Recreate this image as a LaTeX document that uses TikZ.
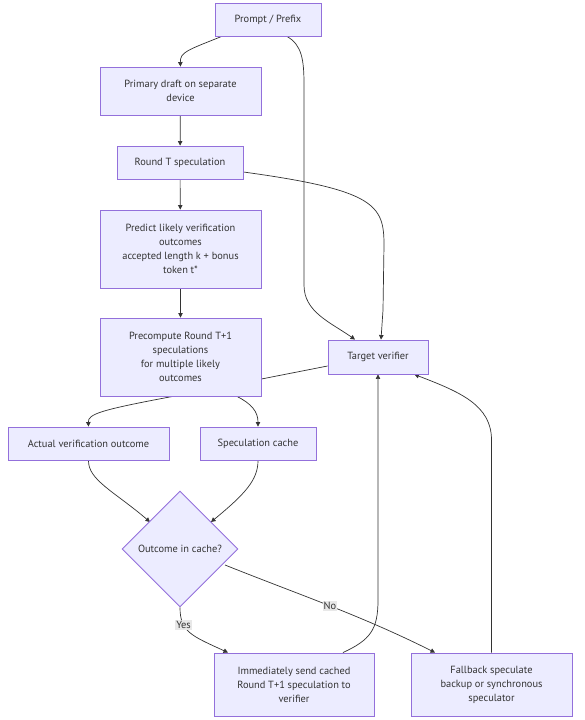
\documentclass[tikz,border=0pt]{standalone}
\usepackage{fontspec}
\setmainfont{PT Sans}
\usetikzlibrary{arrows.meta,shapes.geometric}
\definecolor{nodefill}{HTML}{ECECFF}
\definecolor{nodeline}{HTML}{9370DB}
\definecolor{edgecol}{HTML}{333333}
\definecolor{txtcol}{HTML}{333333}
\definecolor{lblfill}{HTML}{E8E8E8}
\pgfdeclarelayer{bg}
\pgfsetlayers{bg,main}
\begin{document}
\begin{tikzpicture}[x=1pt,y=-1pt,
  box/.style={draw=nodeline, fill=nodefill, line width=0.9pt, align=center,
    inner sep=0pt, text=txtcol, font=\fontsize{10.4}{14}\selectfont},
  decision/.style={box, diamond, shape aspect=1},
  flow/.style={draw=edgecol, line width=0.7pt, -{Triangle[length=4.5pt,width=4.5pt]}},
  lbl/.style={fill=lblfill, inner sep=1pt, text=txtcol, font=\fontsize{10.4}{11}\selectfont}]
\useasboundingbox (0,0) rectangle (585,720);

\node[box, minimum width=106pt, minimum height=33pt] (prompt) at (268,19.5) {Prompt / Prefix};
\node[box, minimum width=161pt, minimum height=48pt] (primary) at (180.5,91) {Primary draft on separate\\device};
\node[box, minimum width=126pt, minimum height=33pt] (roundt) at (180,162.5) {Round T speculation};
\node[box, minimum width=161pt, minimum height=78pt] (predict) at (180.5,249) {Predict likely verification\\outcomes\\accepted length k + bonus\\token t*};
\node[box, minimum width=161pt, minimum height=78pt] (precomp) at (180.5,357) {Precompute Round T+1\\speculations\\for multiple likely\\outcomes};
\node[box, minimum width=100pt, minimum height=34pt] (target) at (378,357) {Target verifier};
\node[box, minimum width=161pt, minimum height=33pt] (actual) at (88.5,443.5) {Actual verification outcome};
\node[box, minimum width=116pt, minimum height=33pt] (cache) at (258,443.5) {Speculation cache};
\node[decision, minimum width=116pt, minimum height=116pt] (dec) at (180,549) {Outcome in cache?};
\node[box, minimum width=160pt, minimum height=63pt] (immed) at (294,684.5) {Immediately send cached\\Round T+1 speculation to\\verifier};
\node[box, minimum width=161pt, minimum height=63pt] (fallback) at (491.5,684.5) {Fallback speculate\\backup or synchronous\\speculator};

\begin{pgfonlayer}{bg}
\path[flow] ([xshift=7pt]prompt.south west) .. controls (188,50) and (180,52) .. (primary.north);
\path[flow] ([xshift=19pt]prompt.south) .. controls (302,45) and (304,60) .. (304,85) -- (304,285) .. controls (304,312) and (330,322) .. ([xshift=-23pt]target.north);
\path[flow] (primary) -- (roundt);
\path[flow] ([yshift=-9.5pt]roundt.east) .. controls (375,190) and (384,205) .. (384,245) -- (383,310) -- ([xshift=3pt]target.north);
\path[flow] (roundt) -- (predict);
\path[flow] (predict) -- (precomp);
\path[flow] ([yshift=-9pt]target.west) -- (175,396) .. controls (100,410) and (88,414) .. (actual.north);
\path[flow] ([xshift=56.5pt]precomp.south) .. controls (252,404) and (258,412) .. (cache.north);
\path[flow] (actual.south) .. controls (88,480) and (115,492) .. (150,522);
\path[flow] (cache.south) .. controls (258,480) and (245,494) .. (211,522);
\path[flow] (dec.south) .. controls (180,632) and (192,636) .. node[lbl, pos=0.3] {Yes} ([xshift=-66pt]immed.north);
\path[flow] (225,565) .. controls (300,595) and (360,615) .. node[lbl, pos=0.5] {No} ([xshift=-56.5pt]fallback.north);
\path[flow] ([xshift=49pt]immed.north) .. controls (370,640) and (378,630) .. (378,600) -- (target.south);
\path[flow] (fallback.north) -- (491.5,440) .. controls (491.5,405) and (460,392) .. ([xshift=-14pt]target.south east);
\end{pgfonlayer}
\end{tikzpicture}
\end{document}
